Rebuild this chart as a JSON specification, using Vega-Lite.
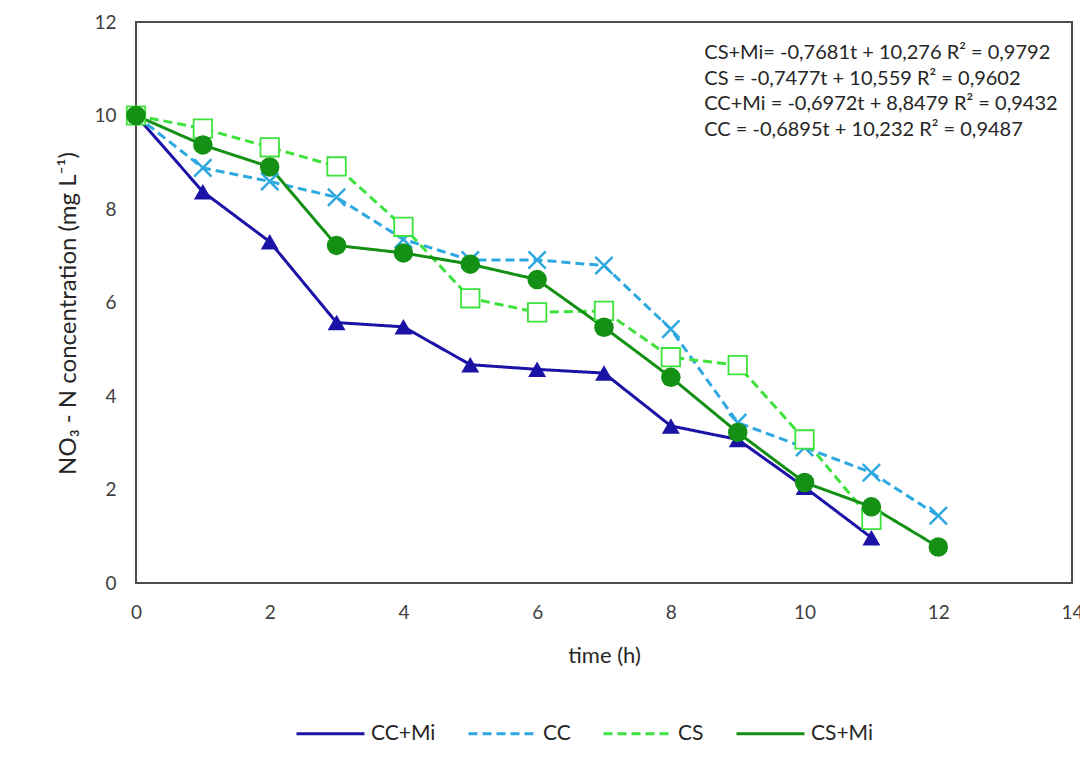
{
  "$schema": "https://vega.github.io/schema/vega-lite/v6.json",
  "width": 936,
  "height": 561,
  "autosize": {"type": "none"},
  "padding": {"left": 136, "top": 22, "right": 8, "bottom": 175},
  "background": "white",
  "config": {
    "font": "Lato",
    "view": {"stroke": "#4d4d4d", "strokeWidth": 2},
    "axis": {"labelFont": "Lato", "titleFont": "Lato", "labelColor": "#404040", "titleColor": "#262626", "labelFontSize": 19, "titleFontSize": 22, "titleFontWeight": "normal", "grid": false, "domain": false, "ticks": false},
    "legend": {"labelFont": "Lato", "labelFontSize": 21, "labelColor": "#262626"}
  },
  "datasets": {
    "obs": [
      {"t": 0, "series": "CC+Mi", "v": 10}, {"t": 1, "series": "CC+Mi", "v": 8.37}, {"t": 2, "series": "CC+Mi", "v": 7.3}, {"t": 3, "series": "CC+Mi", "v": 5.57}, {"t": 4, "series": "CC+Mi", "v": 5.48}, {"t": 5, "series": "CC+Mi", "v": 4.67}, {"t": 6, "series": "CC+Mi", "v": 4.57}, {"t": 7, "series": "CC+Mi", "v": 4.49}, {"t": 8, "series": "CC+Mi", "v": 3.36}, {"t": 9, "series": "CC+Mi", "v": 3.07}, {"t": 10, "series": "CC+Mi", "v": 2.05}, {"t": 11, "series": "CC+Mi", "v": 0.97},
      {"t": 0, "series": "CC", "v": 10}, {"t": 1, "series": "CC", "v": 8.88}, {"t": 2, "series": "CC", "v": 8.59}, {"t": 3, "series": "CC", "v": 8.25}, {"t": 4, "series": "CC", "v": 7.35}, {"t": 5, "series": "CC", "v": 6.91}, {"t": 6, "series": "CC", "v": 6.91}, {"t": 7, "series": "CC", "v": 6.79}, {"t": 8, "series": "CC", "v": 5.43}, {"t": 9, "series": "CC", "v": 3.43}, {"t": 10, "series": "CC", "v": 2.9}, {"t": 11, "series": "CC", "v": 2.36}, {"t": 12, "series": "CC", "v": 1.44},
      {"t": 0, "series": "CS", "v": 10}, {"t": 1, "series": "CS", "v": 9.72}, {"t": 2, "series": "CS", "v": 9.32}, {"t": 3, "series": "CS", "v": 8.91}, {"t": 4, "series": "CS", "v": 7.62}, {"t": 5, "series": "CS", "v": 6.09}, {"t": 6, "series": "CS", "v": 5.79}, {"t": 7, "series": "CS", "v": 5.82}, {"t": 8, "series": "CS", "v": 4.83}, {"t": 9, "series": "CS", "v": 4.66}, {"t": 10, "series": "CS", "v": 3.07}, {"t": 11, "series": "CS", "v": 1.35},
      {"t": 0, "series": "CS+Mi", "v": 10}, {"t": 1, "series": "CS+Mi", "v": 9.37}, {"t": 2, "series": "CS+Mi", "v": 8.9}, {"t": 3, "series": "CS+Mi", "v": 7.22}, {"t": 4, "series": "CS+Mi", "v": 7.06}, {"t": 5, "series": "CS+Mi", "v": 6.82}, {"t": 6, "series": "CS+Mi", "v": 6.49}, {"t": 7, "series": "CS+Mi", "v": 5.47}, {"t": 8, "series": "CS+Mi", "v": 4.4}, {"t": 9, "series": "CS+Mi", "v": 3.22}, {"t": 10, "series": "CS+Mi", "v": 2.15}, {"t": 11, "series": "CS+Mi", "v": 1.63}, {"t": 12, "series": "CS+Mi", "v": 0.77}
    ]
  },
  "data": {"name": "obs"},
  "encoding": {
    "x": {"field": "t", "type": "quantitative", "title": "time (h)", "scale": {"domain": [0, 14], "nice": false}, "axis": {"values": [0, 2, 4, 6, 8, 10, 12, 14], "labelPadding": 20, "titlePadding": 23, "labelFlush": false}},
    "y": {"field": "v", "type": "quantitative", "title": "NO₃ - N concentration (mg L⁻¹)", "scale": {"domain": [0, 12], "nice": false}, "axis": {"values": [0, 2, 4, 6, 8, 10, 12], "labelPadding": 20, "titlePadding": 13, "titleFontSize": 24, "titleY": 291, "labelFlush": false}}
  },
  "layer": [
    {
      "transform": [{"filter": "datum.t === 0 && datum.series === 'CC+Mi'"}],
      "mark": {"type": "text", "align": "left", "baseline": "middle", "fontSize": 20, "color": "#262626", "text": "CS+Mi= -0,7681t + 10,276 R² = 0,9792"},
      "encoding": {"x": {"datum": 8.5}, "y": {"datum": 11.34}}
    },
    {
      "transform": [{"filter": "datum.t === 0 && datum.series === 'CC+Mi'"}],
      "mark": {"type": "text", "align": "left", "baseline": "middle", "fontSize": 20, "color": "#262626", "text": "CS = -0,7477t + 10,559 R² = 0,9602"},
      "encoding": {"x": {"datum": 8.5}, "y": {"datum": 10.79}}
    },
    {
      "transform": [{"filter": "datum.t === 0 && datum.series === 'CC+Mi'"}],
      "mark": {"type": "text", "align": "left", "baseline": "middle", "fontSize": 20, "color": "#262626", "text": "CC+Mi = -0,6972t + 8,8479 R² = 0,9432"},
      "encoding": {"x": {"datum": 8.5}, "y": {"datum": 10.24}}
    },
    {
      "transform": [{"filter": "datum.t === 0 && datum.series === 'CC+Mi'"}],
      "mark": {"type": "text", "align": "left", "baseline": "middle", "fontSize": 20, "color": "#262626", "text": "CC = -0,6895t + 10,232 R² = 0,9487"},
      "encoding": {"x": {"datum": 8.5}, "y": {"datum": 9.69}}
    },
    {
      "mark": {"type": "line", "strokeWidth": 3},
      "encoding": {
        "color": {"field": "series", "type": "nominal", "scale": {"domain": ["CC+Mi", "CC", "CS", "CS+Mi"], "range": ["#1b12a6", "#2ea8e0", "#3de23d", "#149114"]}, "legend": {"title": null, "orient": "bottom", "direction": "horizontal", "offset": -127, "padding": 159, "symbolSize": 4624, "symbolStrokeWidth": 3, "labelOffset": 5, "columnPadding": 26}},
        "strokeDash": {"field": "series", "type": "nominal", "scale": {"domain": ["CC+Mi", "CC", "CS", "CS+Mi"], "range": [[1, 0], [9, 5], [9, 5], [1, 0]]}, "legend": {"title": null, "orient": "bottom", "direction": "horizontal", "offset": -127, "padding": 159, "symbolSize": 4624, "symbolStrokeWidth": 3, "labelOffset": 5, "columnPadding": 26}},
        "order": {"field": "t", "type": "quantitative"}
      }
    },
    {
      "transform": [{"filter": "datum.series === 'CC+Mi'"}],
      "mark": {"type": "point", "shape": "triangle-up", "size": 320, "filled": true, "color": "#1b12a6", "opacity": 1}
    },
    {
      "transform": [{"filter": "datum.series === 'CC'"}],
      "mark": {"type": "point", "shape": "M -1 -1 L 1 1 M -1 1 L 1 -1", "size": 300, "filled": false, "stroke": "#2ea8e0", "strokeWidth": 2.5, "opacity": 1}
    },
    {
      "transform": [{"filter": "datum.series === 'CS'"}],
      "mark": {"type": "point", "shape": "square", "size": 340, "filled": false, "stroke": "#3de23d", "fill": "white", "fillOpacity": 1, "strokeWidth": 1.8, "opacity": 1}
    },
    {
      "transform": [{"filter": "datum.series === 'CS+Mi'"}],
      "mark": {"type": "point", "shape": "circle", "size": 380, "filled": true, "color": "#149114", "opacity": 1}
    }
  ]
}
